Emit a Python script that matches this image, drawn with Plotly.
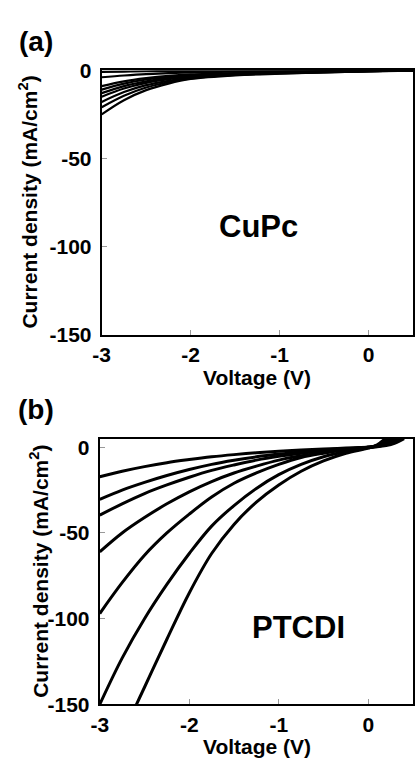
import plotly.graph_objects as go

# ---- Panel (a): CuPc ----
v_a = [-3.0, -2.75, -2.5, -2.25, -2.0, -1.5, -1.0, -0.5, 0.0, 0.5]
cupc = [
    [-1, -0.8, -0.6, -0.5, -0.4, -0.3, -0.2, -0.1, 0, 0],
    [-4, -3, -2.2, -1.7, -1.3, -0.9, -0.6, -0.4, -0.2, 0],
    [-9, -6.3, -4.5, -3.2, -2.4, -1.6, -1.1, -0.7, -0.4, 0],
    [-11, -7.6, -5.3, -3.8, -2.9, -1.9, -1.3, -0.8, -0.4, 0],
    [-13, -9, -6.3, -4.5, -3.3, -2.1, -1.4, -0.9, -0.5, -0.1],
    [-15, -10.4, -7.2, -5.1, -3.7, -2.3, -1.5, -1.0, -0.5, -0.1],
    [-18, -12.4, -8.5, -6.0, -4.2, -2.5, -1.7, -1.1, -0.6, -0.1],
    [-21, -14.5, -9.8, -6.8, -4.6, -2.7, -1.8, -1.2, -0.6, -0.2],
    [-25, -17, -11.3, -7.6, -5.0, -2.9, -2.0, -1.3, -0.7, -0.2],
]

# ---- Panel (b): PTCDI ----
v_b = [-3.0, -2.75, -2.5, -2.25, -2.0, -1.75, -1.5, -1.25, -1.0, -0.75, -0.5, -0.25, 0.0, 0.1, 0.2, 0.3, 0.4]
ptcdi = [
    [-17.2, -14, -11.3, -9, -7.2, -5.6, -4.3, -3.2, -2.3, -1.6, -1.0, -0.5, 0, 0.3, 1.0, 2.5, 5.0],
    [-30.4, -25, -20.5, -16.5, -13, -10, -7.6, -5.6, -4.0, -2.7, -1.6, -0.8, 0, 0.4, 1.5, 3.5, 7],
    [-39.6, -33, -27, -22, -17.5, -13.5, -10.3, -7.5, -5.3, -3.5, -2.1, -1.0, 0, 0.5, 2, 4.5, 8],
    [-61, -50, -41, -33, -26, -20, -15, -11, -7.5, -5.0, -3.0, -1.3, 0, 0.7, 2.5, 5.5, 9],
    [-97, -79, -63, -50, -39, -29, -21, -15, -10, -6.0, -3.5, -1.5, 0, 0.9, 3, 6.5, 10],
    [-150, -123, -100, -80, -62, -46, -34, -24, -16, -10, -5.5, -2.5, -0.3, 1.1, 4, 8, 12],
    [-198, -168, -140, -112, -85, -62, -45, -32, -22, -14, -8, -3.5, -0.5, 1.5, 5.5, 10, 14],
]

x_ticks = [-3, -2, -1, 0]
x_labels = ["-3", "-2", "-1", "0"]
y_ticks = [0, -50, -100, -150]
y_labels = ["0", "-50", "-100", "-150"]

FONT = "Liberation Sans, Arial, sans-serif"

fig = go.Figure()
for ys in cupc:
    fig.add_trace(go.Scatter(x=v_a, y=ys, mode="lines", line=dict(color="black", width=2.2, shape="spline"),
                             xaxis="x", yaxis="y", showlegend=False, hoverinfo="skip"))
for ys in ptcdi:
    fig.add_trace(go.Scatter(x=v_b, y=ys, mode="lines", line=dict(color="black", width=3, shape="spline"),
                             xaxis="x2", yaxis="y2", showlegend=False, hoverinfo="skip"))

ax_common = dict(
    showgrid=False, zeroline=False, showline=True, linecolor="black", linewidth=2,
    mirror=True, ticks="inside", ticklen=5, tickcolor="#999999", tickwidth=1,
    tickfont=dict(family=FONT, size=21, color="black", weight="bold"),
)
x_common = dict(ax_common, ticklabelstandoff=0)
y_common = dict(ax_common, ticklabelstandoff=4)

fig.update_layout(
    width=415, height=760, margin=dict(l=0, r=0, t=0, b=0),
    plot_bgcolor="white", paper_bgcolor="white", showlegend=False,
    xaxis=dict(domain=[95/415, 414/415], range=[-3, 0.5], tickvals=x_ticks, ticktext=x_labels, anchor="y", **x_common),
    yaxis=dict(domain=[1-333/760, 1-60/760], range=[-150, 0], tickvals=y_ticks, ticktext=y_labels, anchor="x", **y_common),
    xaxis2=dict(domain=[93/415, 414/415], range=[-3, 0.5], tickvals=x_ticks, ticktext=x_labels, anchor="y2", **x_common),
    yaxis2=dict(domain=[1-714/760, 1-440/760], range=[-150, 5], tickvals=y_ticks, ticktext=y_labels, anchor="x2", **y_common),
)

def ann(text, x, y, size, angle=0):
    fig.add_annotation(text=text, x=x/415, y=1-y/760, xref="paper", yref="paper",
                       showarrow=False, textangle=angle, xanchor="center", yanchor="middle",
                       font=dict(family=FONT, size=size, color="black", weight="bold"))

ann("(a)", 28, 30, 28)
ann("(b)", 28, 410, 28)
ann("CuPc", 256, 221, 31)
ann("PTCDI", 297, 635, 31)
ann("Voltage (V)", 254, 377, 21)
ann("Voltage (V)", 254, 757, 21)
ann("Current density (mA/cm<sup>2</sup>)", 20, 196, 21, -90)
ann("Current density (mA/cm<sup>2</sup>)", 30, 577, 21, -90)

fig.write_html("out.html")
